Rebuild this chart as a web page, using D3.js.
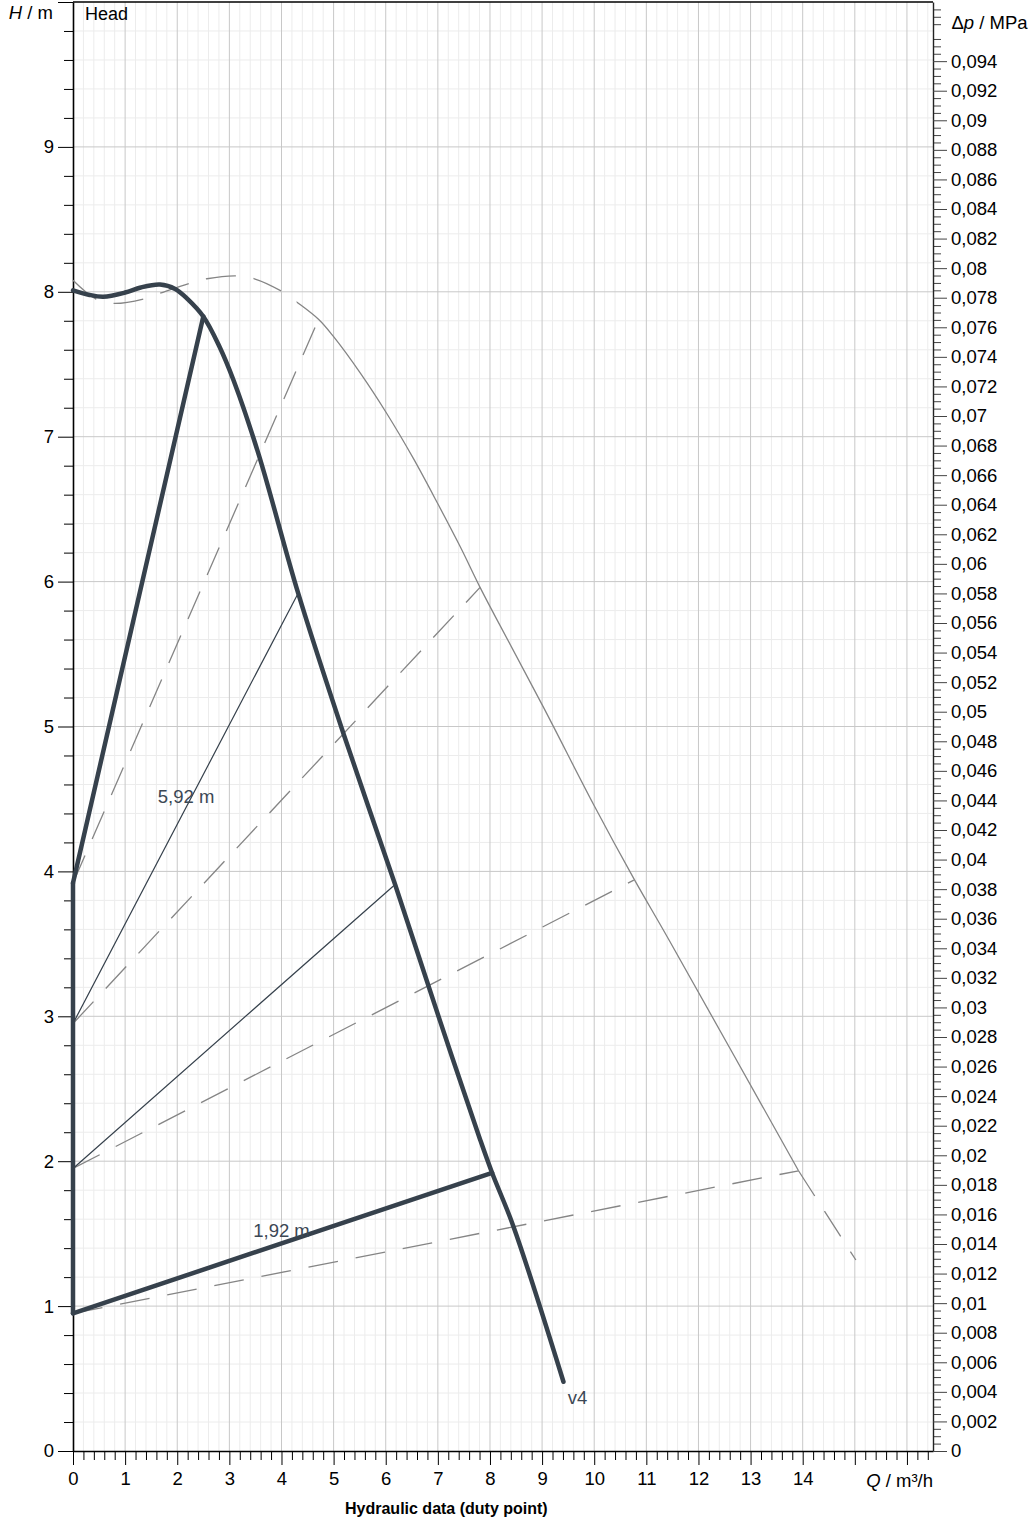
<!DOCTYPE html>
<html><head><meta charset="utf-8">
<script src="https://cdn.jsdelivr.net/npm/d3@7"></script>
<style>
html,body{margin:0;padding:0;background:#fff;}
svg{display:block;font-family:"Liberation Sans",Arial,Helvetica,sans-serif;}
</style></head><body>
<svg id="chart" width="1034" height="1517"></svg>
<script>
// ---------------- data ----------------
// Pump curve at the selected speed (duty point curve)
const pumpQ = [0, 0.3, 0.58, 1.0, 1.3, 1.67, 1.96, 2.2, 2.5, 2.8, 3.08, 3.56, 4.32, 5.19, 6.18, 7.04, 7.81, 8.04, 8.45, 9.41];
const pumpH = [8.01, 7.98, 7.966, 7.995, 8.03, 8.05, 8.02, 7.95, 7.83, 7.63, 7.39, 6.88, 5.92, 4.95, 3.91, 2.97, 2.15, 1.92, 1.55, 0.478];
// Max curve (thin grey)
const maxQ = [0, 0.42, 0.77, 1.35, 1.67, 2.25, 2.57, 3.14, 3.48, 4.02, 4.29, 4.71, 5.0, 5.51, 6.02, 6.53, 7.01, 7.43, 7.81, 8.1, 9.03, 9.99, 10.76, 11.43, 13.92];
const maxH = [8.08, 7.955, 7.92, 7.95, 7.99, 8.06, 8.09, 8.11, 8.09, 8.0, 7.93, 7.81, 7.69, 7.44, 7.16, 6.85, 6.53, 6.24, 5.96, 5.76, 5.13, 4.46, 3.95, 3.53, 1.934];
const tailQ = [13.92, 15.02];
const tailH = [1.934, 1.318];
// Control lines: start head at Q = 0, end on the pump curve, end on the max curve
const ctrlH0    = [3.92, 2.95, 1.95, 0.95];
const ctrlDutyQ = [2.5, 4.32, 6.18, 8.04];
const ctrlDutyH = [7.83, 5.92, 3.91, 1.92];
const ctrlThick = [true, false, false, true];
const ctrlMaxQ  = [4.65, 7.81, 10.76, 13.92];
const ctrlMaxH  = [7.76, 5.96, 3.94, 1.934];
// Annotations
const noteText = ["5,92 m", "1,92 m", "v4"];
const noteQ    = [2.17, 4.0, 9.49];
const noteH    = [4.52, 1.52, 0.37];
// Tick labels
const qTickLabels  = ["0","1","2","3","4","5","6","7","8","9","10","11","12","13","14"];
const hTickLabels  = ["0","1","2","3","4","5","6","7","8","9"];
const dpTickLabels = d3.range(0, 48).map(i => i === 0 ? "0" : String(+(i * 0.002).toFixed(3)).replace(".", ","));
const MPA_PER_M = 0.0098;

// ---------------- layout ----------------
const X0 = 73, X1 = 933, Y0 = 1451, Y1 = 2;
const x = d3.scaleLinear().domain([0, 16.5]).range([X0, X1]);
const y = d3.scaleLinear().domain([0, 10]).range([Y0, Y1]);
const yDp = d3.scaleLinear().domain([0, 10 * MPA_PER_M]).range([Y0, Y1]);

const svg = d3.select("#chart");
const FS = 18.5;
const DARK = "#36414c";

// ---------------- grid ----------------
const qMinor = d3.range(0, 83).map(i => i * 0.2).filter((v, i) => i % 5 !== 0);
const qMajor = d3.range(1, 17);
const hMinor = d3.range(0, 51).map(i => i * 0.2).filter((v, i) => i % 5 !== 0);
const hMajor = d3.range(1, 10);
const grid = svg.append("g");
grid.selectAll(".vmin").data(qMinor).join("line")
  .attr("x1", d => x(d)).attr("x2", d => x(d)).attr("y1", Y1).attr("y2", Y0)
  .attr("stroke", "#ececec").attr("stroke-width", 1);
grid.selectAll(".hmin").data(hMinor).join("line")
  .attr("y1", d => y(d)).attr("y2", d => y(d)).attr("x1", X0).attr("x2", X1)
  .attr("stroke", "#ececec").attr("stroke-width", 1);
grid.selectAll(".vmaj").data(qMajor).join("line")
  .attr("x1", d => x(d)).attr("x2", d => x(d)).attr("y1", Y1).attr("y2", Y0)
  .attr("stroke", "#c8c8c8").attr("stroke-width", 1);
grid.selectAll(".hmaj").data(hMajor).join("line")
  .attr("y1", d => y(d)).attr("y2", d => y(d)).attr("x1", X0).attr("x2", X1)
  .attr("stroke", "#c8c8c8").attr("stroke-width", 1);

// ---------------- axes ----------------
function styleAxis(g, color, fs) {
  g.selectAll("text").attr("font-size", fs).attr("fill", "#000").attr("font-family", "Liberation Sans, Arial, sans-serif");
  g.selectAll("line").attr("stroke", color);
  g.selectAll("path").attr("stroke", color);
}
// left minor / major
const lMin = svg.append("g").attr("transform", `translate(${X0},0)`)
  .call(d3.axisLeft(y).tickValues(hMinor).tickSize(9).tickSizeOuter(0).tickFormat(""));
lMin.select(".domain").remove(); styleAxis(lMin, "#000", FS);
const lMaj = svg.append("g").attr("transform", `translate(${X0},0)`)
  .call(d3.axisLeft(y).tickValues(d3.range(0, 11)).tickSize(15).tickSizeOuter(0).tickPadding(4)
    .tickFormat(d => hTickLabels[d] !== undefined ? hTickLabels[d] : ""));
styleAxis(lMaj, "#000", FS);
lMaj.select(".domain").attr("stroke-width", 1.6);
// bottom
const bMin = svg.append("g").attr("transform", `translate(0,${Y0})`)
  .call(d3.axisBottom(x).tickValues(qMinor).tickSize(9).tickSizeOuter(0).tickFormat(""));
bMin.select(".domain").remove(); styleAxis(bMin, "#000", FS);
const bMaj = svg.append("g").attr("transform", `translate(0,${Y0})`)
  .call(d3.axisBottom(x).tickValues(d3.range(0, 17)).tickSize(14).tickSizeOuter(0).tickPadding(7)
    .tickFormat(d => qTickLabels[d] !== undefined ? qTickLabels[d] : ""));
styleAxis(bMaj, "#000", FS);
bMaj.select(".domain").attr("stroke-width", 1.6);
// right
const dpMinor = d3.range(0, 196).map(i => i * 0.0005).filter((v, i) => i % 4 !== 0);
const dpMajor = d3.range(0, 48).map(i => i * 0.002);
const rMin = svg.append("g").attr("transform", `translate(${X1},0)`)
  .call(d3.axisRight(yDp).tickValues(dpMinor).tickSize(8).tickSizeOuter(0).tickFormat(""));
rMin.select(".domain").remove(); styleAxis(rMin, "#444", FS);
const rMaj = svg.append("g").attr("transform", `translate(${X1},0)`)
  .call(d3.axisRight(yDp).tickValues(dpMajor).tickSize(14).tickSizeOuter(0).tickPadding(4)
    .tickFormat((d, i) => dpTickLabels[i]));
styleAxis(rMaj, "#444", FS);
rMaj.select(".domain").attr("stroke", "#222").attr("stroke-width", 1.4);
// top border
svg.append("line").attr("x1", X0).attr("x2", X1).attr("y1", y(10)).attr("y2", y(10))
  .attr("stroke", "#000").attr("stroke-width", 1.4);

// ---------------- curves ----------------
const lineGen = d3.line().x(d => x(d[0])).y(d => y(d[1]));
const smoothGen = d3.line().x(d => x(d[0])).y(d => y(d[1])).curve(d3.curveCatmullRom.alpha(0.5));
const DASH = "30,18";
const GREY = "#858585";
const plot = svg.append("g");

// clip regions for the max curve (dashed at low flow, solid beyond)
const defs = svg.append("defs");
defs.append("clipPath").attr("id", "clipDash").append("rect")
  .attr("x", 0).attr("y", 0).attr("width", x(4.02)).attr("height", 1517);
defs.append("clipPath").attr("id", "clipSolid").append("rect")
  .attr("x", x(4.29)).attr("y", 0).attr("width", 1034).attr("height", 1517);

// dashed control lines to max curve
plot.selectAll(".ctrlMax").data(ctrlH0).join("path")
  .attr("d", (h, i) => lineGen([[0, h], [ctrlMaxQ[i], ctrlMaxH[i]]]))
  .attr("fill", "none").attr("stroke", GREY).attr("stroke-width", 1.3).attr("stroke-dasharray", DASH);

const maxPts = maxQ.map((q, i) => [q, maxH[i]]);
plot.append("path").attr("d", smoothGen(maxPts)).attr("clip-path", "url(#clipDash)")
  .attr("fill", "none").attr("stroke", GREY).attr("stroke-width", 1.3).attr("stroke-dasharray", DASH);
plot.append("path").attr("d", smoothGen(maxPts)).attr("clip-path", "url(#clipSolid)")
  .attr("fill", "none").attr("stroke", GREY).attr("stroke-width", 1.3);
plot.append("path").attr("d", lineGen(tailQ.map((q, i) => [q, tailH[i]])))
  .attr("fill", "none").attr("stroke", GREY).attr("stroke-width", 1.3).attr("stroke-dasharray", DASH);

// control lines to duty curve
plot.selectAll(".ctrlDuty").data(ctrlH0).join("path")
  .attr("d", (h, i) => lineGen([[0, h], [ctrlDutyQ[i], ctrlDutyH[i]]]))
  .attr("fill", "none").attr("stroke", DARK)
  .attr("stroke-width", (h, i) => ctrlThick[i] ? 4.5 : 1.2)
  .attr("stroke-linecap", "round");

// thick vertical segment along Q = 0
plot.append("path").attr("d", lineGen([[0, ctrlH0[3]], [0, ctrlH0[0]]]))
  .attr("fill", "none").attr("stroke", DARK).attr("stroke-width", 4.5).attr("stroke-linecap", "round");

// pump curve
plot.append("path").attr("d", smoothGen(pumpQ.map((q, i) => [q, pumpH[i]])))
  .attr("fill", "none").attr("stroke", DARK).attr("stroke-width", 4.5)
  .attr("stroke-linejoin", "round").attr("stroke-linecap", "round");

// annotations
plot.selectAll(".note").data(noteText).join("text")
  .attr("x", (t, i) => x(noteQ[i])).attr("y", (t, i) => y(noteH[i]))
  .attr("dy", "0.35em")
  .attr("text-anchor", (t, i) => i === 2 ? "start" : "middle")
  .attr("font-size", FS).attr("fill", "#3b4754").text(t => t);

// ---------------- titles ----------------
const hLbl = svg.append("text").attr("x", 53).attr("y", 19).attr("text-anchor", "end").attr("font-size", FS).attr("fill", "#000");
hLbl.append("tspan").attr("font-style", "italic").text("H");
hLbl.append("tspan").text(" / m");
svg.append("text").attr("x", 85).attr("y", 20).attr("font-size", 18).attr("fill", "#000").text("Head");
const pLbl = svg.append("text").attr("x", 951.5).attr("y", 29).attr("font-size", FS).attr("fill", "#000");
pLbl.append("tspan").text("Δ");
pLbl.append("tspan").attr("font-style", "italic").text("p");
pLbl.append("tspan").text(" / MPa");
const qLbl = svg.append("text").attr("x", X1).attr("y", 1487).attr("text-anchor", "end").attr("font-size", FS).attr("fill", "#000");
qLbl.append("tspan").attr("font-style", "italic").text("Q");
qLbl.append("tspan").text(" / m³/h");
svg.append("text").attr("x", 345).attr("y", 1514).attr("font-size", 16).attr("font-weight", "bold")
  .attr("fill", "#000").text("Hydraulic data (duty point)");
</script>
</body></html>
